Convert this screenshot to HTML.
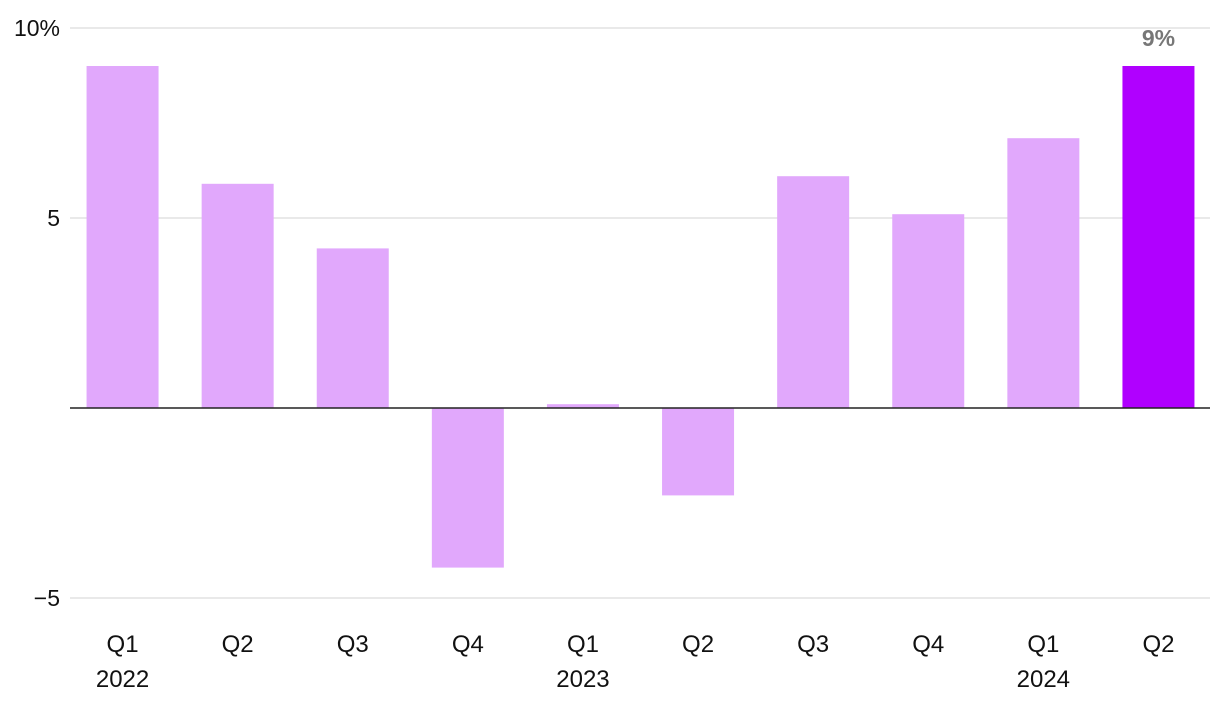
<!DOCTYPE html>
<html><head><meta charset="utf-8"><style>
html,body{margin:0;padding:0;background:#fff;width:1220px;height:720px;overflow:hidden}
svg text{font-family:"Liberation Sans",sans-serif}
</style></head><body>
<svg id="chart" width="1220" height="720" xmlns="http://www.w3.org/2000/svg"></svg>
<script>
const categories = ["Q1","Q2","Q3","Q4","Q1","Q2","Q3","Q4","Q1","Q2"];
const years = ["2022","","","","2023","","","","2024",""];
const values = [9.0,5.9,4.2,-4.2,0.1,-2.3,6.1,5.1,7.1,9.0];
const yTicks = [10,5,-5];
const yTickLabels = ["10%","5","\u22125"];
const highlightLabel = "9%";

const svg = document.getElementById('chart');
const NS = "http://www.w3.org/2000/svg";
const y = v => 408 - v * 38;
const bandStart = 65, band = 115.1, barW = 72;
const xc = i => bandStart + band * i + band / 2;
function mk(tag, attrs, txt) {
  const e = document.createElementNS(NS, tag);
  for (const k in attrs) e.setAttribute(k, attrs[k]);
  if (txt !== undefined) e.textContent = txt;
  svg.appendChild(e);
  return e;
}
yTicks.forEach((t, i) => {
  const g = mk('line', {x1: 70, x2: 1210, y1: y(t), y2: y(t), stroke: '#e2e2e2', 'stroke-width': 1.5});
  
  
  const l = mk('text', {x: 60, y: y(t) + 8, 'text-anchor': 'end', 'font-size': 23, fill: '#111'}, yTickLabels[i]);
  
  
});
values.forEach((v, i) => {
  const top = Math.min(y(v), y(0)), h = Math.abs(y(v) - y(0));
  const last = i === values.length - 1;
  const r = mk('rect', {x: xc(i) - barW / 2, y: top, width: barW, height: h, fill: last ? '#b000ff' : '#e1a8fc'});
  
  
  const c = mk('text', {x: xc(i), y: 652, 'text-anchor': 'middle', 'font-size': 24, fill: '#111', 'font-family': '"Liberation Mono",monospace'}, categories[i]);
  
  
  if (years[i]) {
    const yy = mk('text', {x: xc(i), y: 687, 'text-anchor': 'middle', 'font-size': 24, fill: '#111', 'font-family': '"Liberation Mono",monospace'}, years[i]);
    
    
  }
  if (last) {
    const vl = mk('text', {x: xc(i), y: y(v) - 20, 'text-anchor': 'middle', 'font-size': 23, 'font-weight': 'bold', fill: '#777'}, highlightLabel);
    
    
  }
});
const z = mk('line', {x1: 70, x2: 1210, y1: y(0), y2: y(0), stroke: '#222', 'stroke-width': 1.5});


</script>
</body></html>
